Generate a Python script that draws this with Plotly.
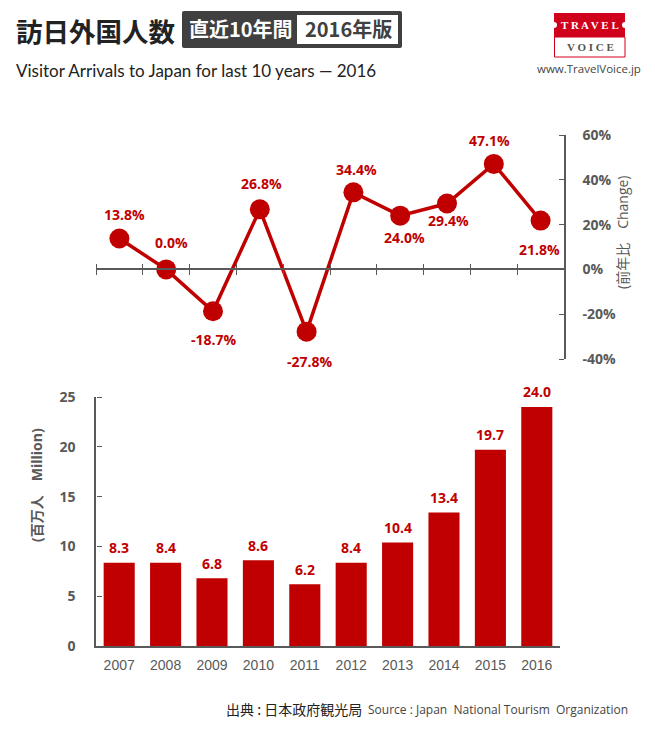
import plotly.graph_objects as go

## DATA ##
years = [2007, 2008, 2009, 2010, 2011, 2012, 2013, 2014, 2015, 2016]
change_pct = [13.8, 0.0, -18.7, 26.8, -27.8, 34.4, 24.0, 29.4, 47.1, 21.8]
arrivals = [8.35, 8.35, 6.8, 8.6, 6.2, 8.36, 10.4, 13.4, 19.7, 24.0]
arrival_labels = ['8.3', '8.4', '6.8', '8.6', '6.2', '8.4', '10.4', '13.4', '19.7', '24.0']
change_ticks = [-40, -20, 0, 20, 40, 60]
arrival_ticks = [0, 5, 10, 15, 20, 25]

## LABEL OFFSETS FROM EACH POINT (PIXELS) ##
label_dx = [5, 5, 1, 2, 3, 3, 4, 1, -4, -1]
label_dy = [24, 27, -28, 26, -30, 23, -22, -17, 23, -29]

RED = '#C00000'
GREY = '#595959'
W = 655
H = 735
CJK = 'Noto Sans CJK JP'
TICK_FONT = dict(family='Open Sans', size=14, color=GREY, weight='bold')
VALUE_FONT = dict(family='Open Sans', size=14, color=RED, weight='bold')


def px_x(x):
    return x / W


def px_y(y):
    return 1 - y / H


def rect(x0, y0, x1, y1, fill, line=None):
    return dict(type='rect', xref='paper', yref='paper', x0=px_x(x0), x1=px_x(x1),
                y0=px_y(y0), y1=px_y(y1), fillcolor=fill,
                line=dict(color=line or fill, width=1 if line else 0), layer='above')


def text(x, y, s, size, color='#222222', family=CJK, bold=False, anchor='left', angle=0):
    return dict(xref='paper', yref='paper', x=px_x(x), y=px_y(y), text=s, showarrow=False,
                xanchor=anchor, yanchor='middle', textangle=angle,
                font=dict(family=family, size=size, color=color, weight='bold' if bold else 'normal'))


fig = go.Figure()

## LINE CHART ##
fig.add_trace(go.Scatter(x=years, y=change_pct, mode='lines+markers', xaxis='x', yaxis='y',
                         line=dict(color=RED, width=3.5), marker=dict(color=RED, size=20),
                         cliponaxis=False, showlegend=False))
## BAR CHART ##
fig.add_trace(go.Bar(x=years, y=arrivals, xaxis='x2', yaxis='y2', width=0.67,
                     marker=dict(color=RED, line=dict(width=0)), showlegend=False))
## EMPTY TRACES SO THE OPPOSITE-SIDE TICK AXES GET DRAWN ##
fig.add_trace(go.Scatter(x=years, y=change_pct, mode='none', xaxis='x3', yaxis='y3', showlegend=False))
fig.add_trace(go.Scatter(x=years, y=arrivals, mode='none', xaxis='x2', yaxis='y4', showlegend=False))

## AXIS GEOMETRY ##
line_top, line_bottom = 135, 359
zero_pos = px_y(line_top + (line_bottom - line_top) * 60 / 100)
boundaries = [y - 0.5 for y in years] + [years[-1] + 0.5]
year_range = [years[0] - 0.5, years[-1] + 0.5]
TICKS = dict(ticks='outside', ticklen=5, tickwidth=1, tickcolor=GREY, showticklabels=False,
             showline=False, showgrid=False, zeroline=False, tickmode='array')

fig.update_layout(
    width=W, height=H, margin=dict(l=0, r=0, t=0, b=0, autoexpand=False),
    paper_bgcolor='white', plot_bgcolor='white', showlegend=False, bargap=0.33,
    xaxis=dict(domain=[px_x(96), px_x(564)], range=year_range, anchor='free', position=zero_pos,
               tickmode='array', tickvals=boundaries, showticklabels=False, ticks='outside',
               ticklen=5, tickwidth=1, tickcolor=GREY, showline=True, linecolor=GREY, linewidth=1.5,
               showgrid=False, zeroline=False),
    xaxis3=dict(domain=[px_x(96), px_x(564)], range=year_range, anchor='free', position=zero_pos,
                overlaying='x', side='top', tickvals=boundaries, **TICKS),
    yaxis=dict(domain=[px_y(line_bottom), px_y(line_top)], range=[-40, 60], anchor='x', side='right',
               tickmode='array', tickvals=change_ticks, ticktext=[f'{t}%' for t in change_ticks],
               ticks='', showline=True, linecolor=GREY,
               linewidth=1.5, showgrid=False, zeroline=False, tickfont=TICK_FONT, ticklabelstandoff=14),
    yaxis3=dict(domain=[px_y(line_bottom), px_y(line_top)], range=[-40, 60], anchor='free',
                position=px_x(564), overlaying='y', side='left', tickvals=change_ticks, **TICKS),
    xaxis2=dict(domain=[px_x(96), px_x(560)], range=year_range, anchor='y2', tickmode='array',
                tickvals=years, ticks='', showline=True, linecolor=GREY, linewidth=1.5, showgrid=False,
                zeroline=False, tickfont=dict(family='Liberation Sans', size=14, color=GREY),
                ticklabelstandoff=5),
    yaxis2=dict(domain=[px_y(646), px_y(397)], range=[0, 25], anchor='x2', tickmode='array',
                tickvals=arrival_ticks, ticks='', showline=True, linecolor=GREY, linewidth=1.5,
                showgrid=False, zeroline=False, tickfont=TICK_FONT, ticklabelstandoff=16),
    yaxis4=dict(domain=[px_y(646), px_y(397)], range=[0, 25], anchor='free', position=px_x(96),
                overlaying='y2', side='right', tickvals=arrival_ticks, **TICKS),
)

## VALUE LABELS ##
annotations = []
for year, pct, dx, dy in zip(years, change_pct, label_dx, label_dy):
    annotations.append(dict(x=year, y=pct, xref='x', yref='y', text=f'{pct:.1f}%', showarrow=False,
                            xshift=dx, yshift=dy, font=VALUE_FONT))
for year, val, label in zip(years, arrivals, arrival_labels):
    annotations.append(dict(x=year, y=val, xref='x2', yref='y2', text=label, showarrow=False,
                            yshift=15, font=VALUE_FONT))

## AXIS TITLES ##
annotations.append(text(623, 232, '(前年比　Change)', 14, GREY, f'Open Sans, {CJK}', False, 'center', -90))
annotations.append(text(37, 485, '(百万人　Million)', 14, GREY, f'Open Sans, {CJK}', True, 'center', -90))

## HEADER ##
annotations.append(text(14, 30, '訪日外国人数', 26.5, '#222222', CJK, True))
annotations.append(text(241, 29, '直近10年間', 20, 'white', CJK, True, 'center'))
annotations.append(text(348, 29, '2016年版', 20, '#404040', CJK, True, 'center'))
annotations.append(text(14, 71, 'Visitor Arrivals to Japan for last 10 years ― 2016', 17, '#222222', f'Lato, {CJK}'))

## LOGO ##
annotations.append(text(590, 25, 'T R A V E L', 11, 'white', 'Liberation Serif', True, 'center'))
annotations.append(text(590, 47, 'V O I C E', 11, '#555555', 'Liberation Serif', True, 'center'))
annotations.append(text(589, 68, 'www.TravelVoice.jp', 11.5, '#444444', 'Open Sans', False, 'center'))

## SOURCE ##
annotations.append(text(224, 709, '出典 : 日本政府観光局', 14, '#222222', CJK))
annotations.append(text(366, 709, 'Source : Japan  National Tourism  Organization', 12, '#444444', 'Open Sans'))

fig.update_layout(annotations=annotations)

shapes = [
    dict(type='path', xref='paper', yref='paper', fillcolor='#404040', line=dict(width=0),
         path=f'M {px_x(184)} {px_y(11)} L {px_x(400)} {px_y(11)} Q {px_x(402)} {px_y(11)} {px_x(402)} {px_y(13)} '
              f'L {px_x(402)} {px_y(46)} Q {px_x(402)} {px_y(48)} {px_x(400)} {px_y(48)} L {px_x(184)} {px_y(48)} '
              f'Q {px_x(182)} {px_y(48)} {px_x(182)} {px_y(46)} L {px_x(182)} {px_y(13)} Q {px_x(182)} {px_y(11)} {px_x(184)} {px_y(11)} Z'),
    rect(297, 15, 398, 44, 'white'),
    rect(554.5, 37, 625, 57, 'white', '#D0021B'),
    rect(554, 13, 625, 37, '#D0021B'),
    dict(type='circle', xref='paper', yref='paper', x0=px_x(551), x1=px_x(557), y0=px_y(28), y1=px_y(22),
         fillcolor='white', line=dict(width=0)),
    dict(type='circle', xref='paper', yref='paper', x0=px_x(622), x1=px_x(628), y0=px_y(28), y1=px_y(22),
         fillcolor='white', line=dict(width=0)),
]
fig.update_layout(shapes=shapes)

## REMOVE DEFAULT PAGE MARGIN ##
fig.write_html("out.html", config=dict(displayModeBar=False),
               post_script="document.body.style.margin='0';document.body.style.overflow='hidden';")
